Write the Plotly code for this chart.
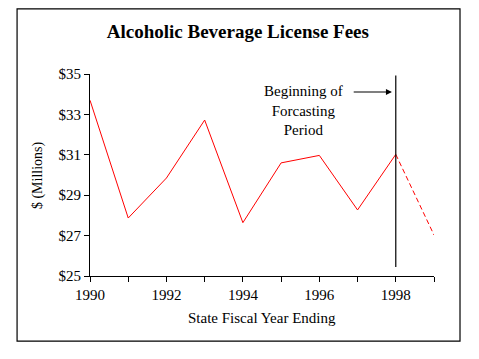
import plotly.graph_objects as go

years = [1990, 1991, 1992, 1993, 1994, 1995, 1996, 1997, 1998, 1999]
fees = [33.7, 27.87, 29.85, 32.72, 27.64, 30.6, 30.97, 28.27, 31.02, 27.03]
forecast_start = 1998
y_ticks = [25, 27, 29, 31, 33, 35]
y_tick_labels = ["$25", "$27", "$29", "$31", "$33", "$35"]
x_ticks = [1990, 1992, 1994, 1996, 1998]

split = years.index(forecast_start)
FONT = "Liberation Serif, Times New Roman, serif"

fig = go.Figure()
fig.add_trace(go.Scatter(x=years[:split + 1], y=fees[:split + 1], mode="lines",
                         line=dict(color="#ff0000", width=1), showlegend=False))
fig.add_trace(go.Scatter(x=years[split:], y=fees[split:], mode="lines",
                         line=dict(color="#ff0000", width=1, dash="5px,3px"), showlegend=False))

# forecast start line
fig.add_shape(type="line", xref="x", yref="y", x0=forecast_start, x1=forecast_start,
              y0=25.45, y1=34.92, line=dict(color="black", width=1.2))

# outer border
fig.add_shape(type="rect", xref="paper", yref="paper", x0=-0.212, x1=1.0756,
              y0=-0.322, y1=1.322, line=dict(color="black", width=1.2))

fig.add_annotation(x=1995.58, y=33.2, xref="x", yref="y", showarrow=False,
                   text="Beginning of<br>Forcasting<br>Period",
                   font=dict(family=FONT, size=15, color="black"), align="center")
fig.add_annotation(x=1997.9, y=34.11, ax=1996.86, ay=34.11, xref="x", yref="y",
                   axref="x", ayref="y", text="", showarrow=True, arrowhead=2,
                   arrowsize=1, arrowwidth=1.2, arrowcolor="black")

# axis titles
fig.add_annotation(x=0.5, y=-0.208, xref="paper", yref="paper", showarrow=False,
                   text="State Fiscal Year Ending", yanchor="middle",
                   font=dict(family=FONT, size=15, color="black"))
fig.add_annotation(x=-0.151, y=0.5, xref="paper", yref="paper", showarrow=False,
                   text="$ (Millions)", textangle=-90, xanchor="center",
                   font=dict(family=FONT, size=14, color="black"))

fig.update_layout(
    width=471, height=351,
    margin=dict(l=82, r=45, t=66, b=83),
    paper_bgcolor="white", plot_bgcolor="white",
    font=dict(family=FONT, size=15, color="black"),
    title=dict(text="<b>Alcoholic Beverage License Fees</b>", x=0.488, xanchor="center",
               y=0.934, yanchor="middle", font=dict(family=FONT, size=19, color="black")),
    xaxis=dict(range=[1990, 1999], tickvals=x_ticks, showgrid=False, zeroline=False,
               showline=True, linecolor="black", linewidth=1, ticks="outside",
               ticklen=5, tickcolor="black",
               minor=dict(tickvals=years, ticks="outside", ticklen=5, tickcolor="black")),
    yaxis=dict(range=[25, 35], tickvals=y_ticks, ticktext=y_tick_labels, showgrid=False,
               zeroline=False, showline=True, linecolor="black", linewidth=1,
               ticks="outside", ticklen=5, tickcolor="black"),
)

fig.write_html("out.html")
